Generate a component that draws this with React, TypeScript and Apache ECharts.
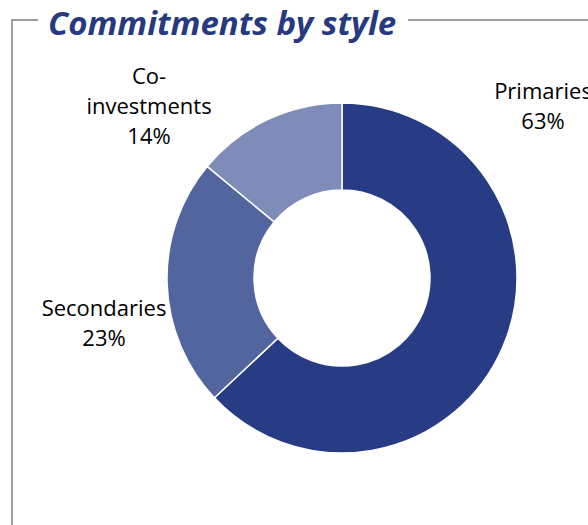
import React, { useEffect, useRef } from "react";
import * as echarts from "echarts";

const categories = ["Primaries", "Secondaries", "Co-\ninvestments"];
const values = [63, 23, 14];
const colors = ["#283C85", "#53659F", "#7F8BB8"];
const labelPos = [
  [543, 105],
  [104, 322],
  [149, 105],
];

export default function App() {
  const ref = useRef<HTMLDivElement>(null);
  useEffect(() => {
    document.body.style.margin = "0";
    const chart = echarts.init(ref.current!, null, { renderer: "svg" });
    chart.setOption({
      animation: false,
      backgroundColor: "#ffffff",
      title: {
        text: "Commitments by style",
        left: 43,
        top: 1,
        textStyle: {
          fontFamily: "Open Sans",
          fontStyle: "italic",
          fontWeight: "bold",
          fontSize: 33,
          color: "#27397F",
        },
      },
      graphic: [
        {
          type: "polyline",
          shape: { points: [[38, 20], [12, 20], [12, 525]] },
          style: { stroke: "#7F7F7F", lineWidth: 1.5, fill: "none" },
        },
        {
          type: "line",
          shape: { x1: 408, y1: 20, x2: 588, y2: 20 },
          style: { stroke: "#7F7F7F", lineWidth: 1.5 },
        },
      ],
      series: [
        {
          type: "pie",
          center: [342, 278],
          radius: [88, 175],
          startAngle: 90,
          clockwise: true,
          itemStyle: { borderColor: "#ffffff", borderWidth: 1.5 },
          label: {
            show: true,
            formatter: (p: any) => `${p.name}\n${p.value}%`,
            fontFamily: "Open Sans",
            fontSize: 22,
            lineHeight: 30,
            color: "#000000",
            align: "center",
            overflow: "none",
          },
          labelLine: { show: false },
          labelLayout: (p: any) => ({
            x: labelPos[p.dataIndex][0],
            y: labelPos[p.dataIndex][1],
            align: "center",
            verticalAlign: "middle",
          }),
          emphasis: { disabled: true },
          data: categories.map((c, i) => ({
            name: c,
            value: values[i],
            itemStyle: { color: colors[i] },
          })),
        },
      ],
    });
    return () => chart.dispose();
  }, []);
  return <div ref={ref} style={{ width: 588, height: 525 }} />;
}
